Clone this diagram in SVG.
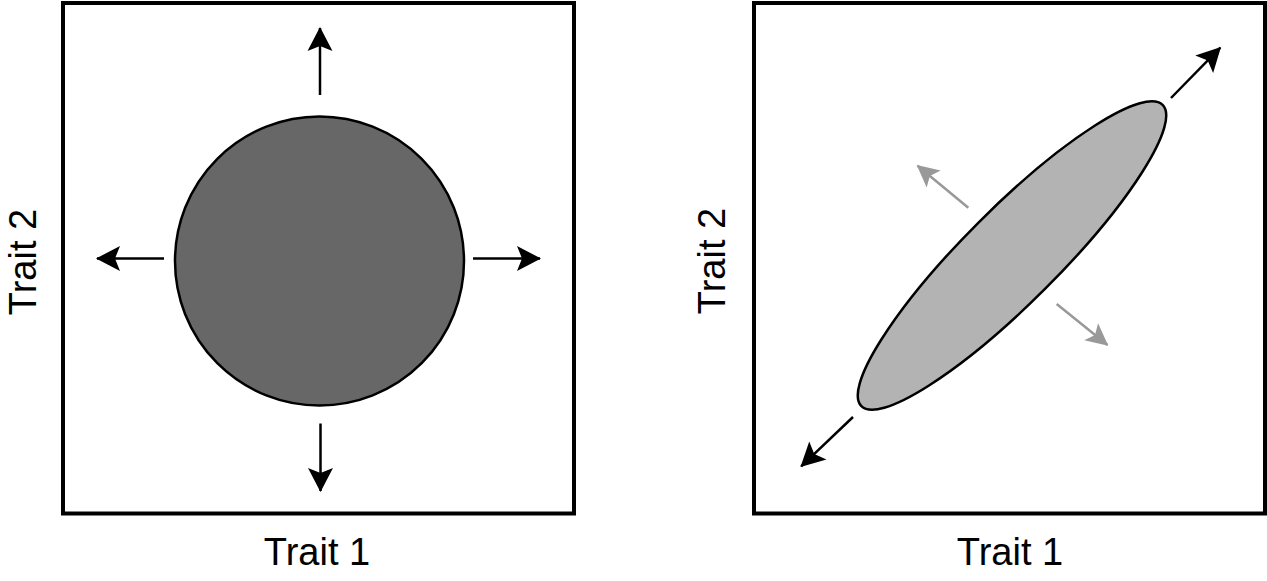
<svg xmlns="http://www.w3.org/2000/svg" width="1267" height="581" viewBox="0 0 1267 581">
  <style>
    .frame { fill: #ffffff; stroke: #000000; stroke-width: 4; }
    .blob { stroke: #000000; stroke-width: 2.5; }
    .arrow { fill: none; stroke: #000000; stroke-width: 2.5; marker-end: url(#headBlack); }
    .arrow-gray { fill: none; stroke: #999999; stroke-width: 2.5; marker-end: url(#headGray); }
    .label { font-family: "Liberation Sans", Arial, sans-serif; font-size: 38px; fill: #000000; text-anchor: middle; }
  </style>
  <defs>
    <marker id="headBlack" markerUnits="userSpaceOnUse" viewBox="-26 -14 28 28" refX="0" refY="0" markerWidth="28" markerHeight="28" orient="auto">
      <path d="M1,0 L-23,-12.5 L-18,0 L-23,12.5 Z" fill="#000000"/>
    </marker>
    <marker id="headGray" markerUnits="userSpaceOnUse" viewBox="-26 -14 28 28" refX="0" refY="0" markerWidth="28" markerHeight="28" orient="auto">
      <path d="M1,0 L-21,-11 L-16,0 L-21,11 Z" fill="#999999"/>
    </marker>
  </defs>

  <g id="panel-left">
    <rect class="frame" x="63" y="3" width="511" height="510.5"/>
  </g>
  <g id="panel-right">
    <rect class="frame" x="754" y="3" width="511" height="510.5"/>
  </g>

  <g id="circle-node">
    <circle class="blob" cx="319.5" cy="261" r="144.5" fill="#676767"/>
  </g>
  <g id="ellipse-node">
    <ellipse class="blob" cx="1012" cy="255.5" rx="213" ry="47" fill="#b3b3b3" transform="rotate(-45 1012 255.5)"/>
  </g>

  <g id="connectors">
    <line class="arrow" x1="320" y1="95" x2="320" y2="28"/>
    <line class="arrow" x1="164" y1="258.5" x2="97" y2="258.5"/>
    <line class="arrow" x1="473" y1="258.5" x2="540" y2="258.5"/>
    <line class="arrow" x1="320.5" y1="423.5" x2="320.5" y2="491"/>
    <line class="arrow" x1="1171" y1="98" x2="1220.3" y2="47.7"/>
    <line class="arrow" x1="853" y1="417" x2="801.2" y2="466.3"/>
    <line class="arrow-gray" x1="968.3" y1="207.7" x2="917.5" y2="165.7"/>
    <line class="arrow-gray" x1="1056.7" y1="304" x2="1107.5" y2="345"/>
  </g>

  <g id="labels">
    <text class="label" x="317" y="565">Trait 1</text>
    <text class="label" x="1010" y="565">Trait 1</text>
    <text class="label" transform="translate(35.5 262) rotate(-90)">Trait 2</text>
    <text class="label" transform="translate(725 261) rotate(-90)">Trait 2</text>
  </g>
</svg>
